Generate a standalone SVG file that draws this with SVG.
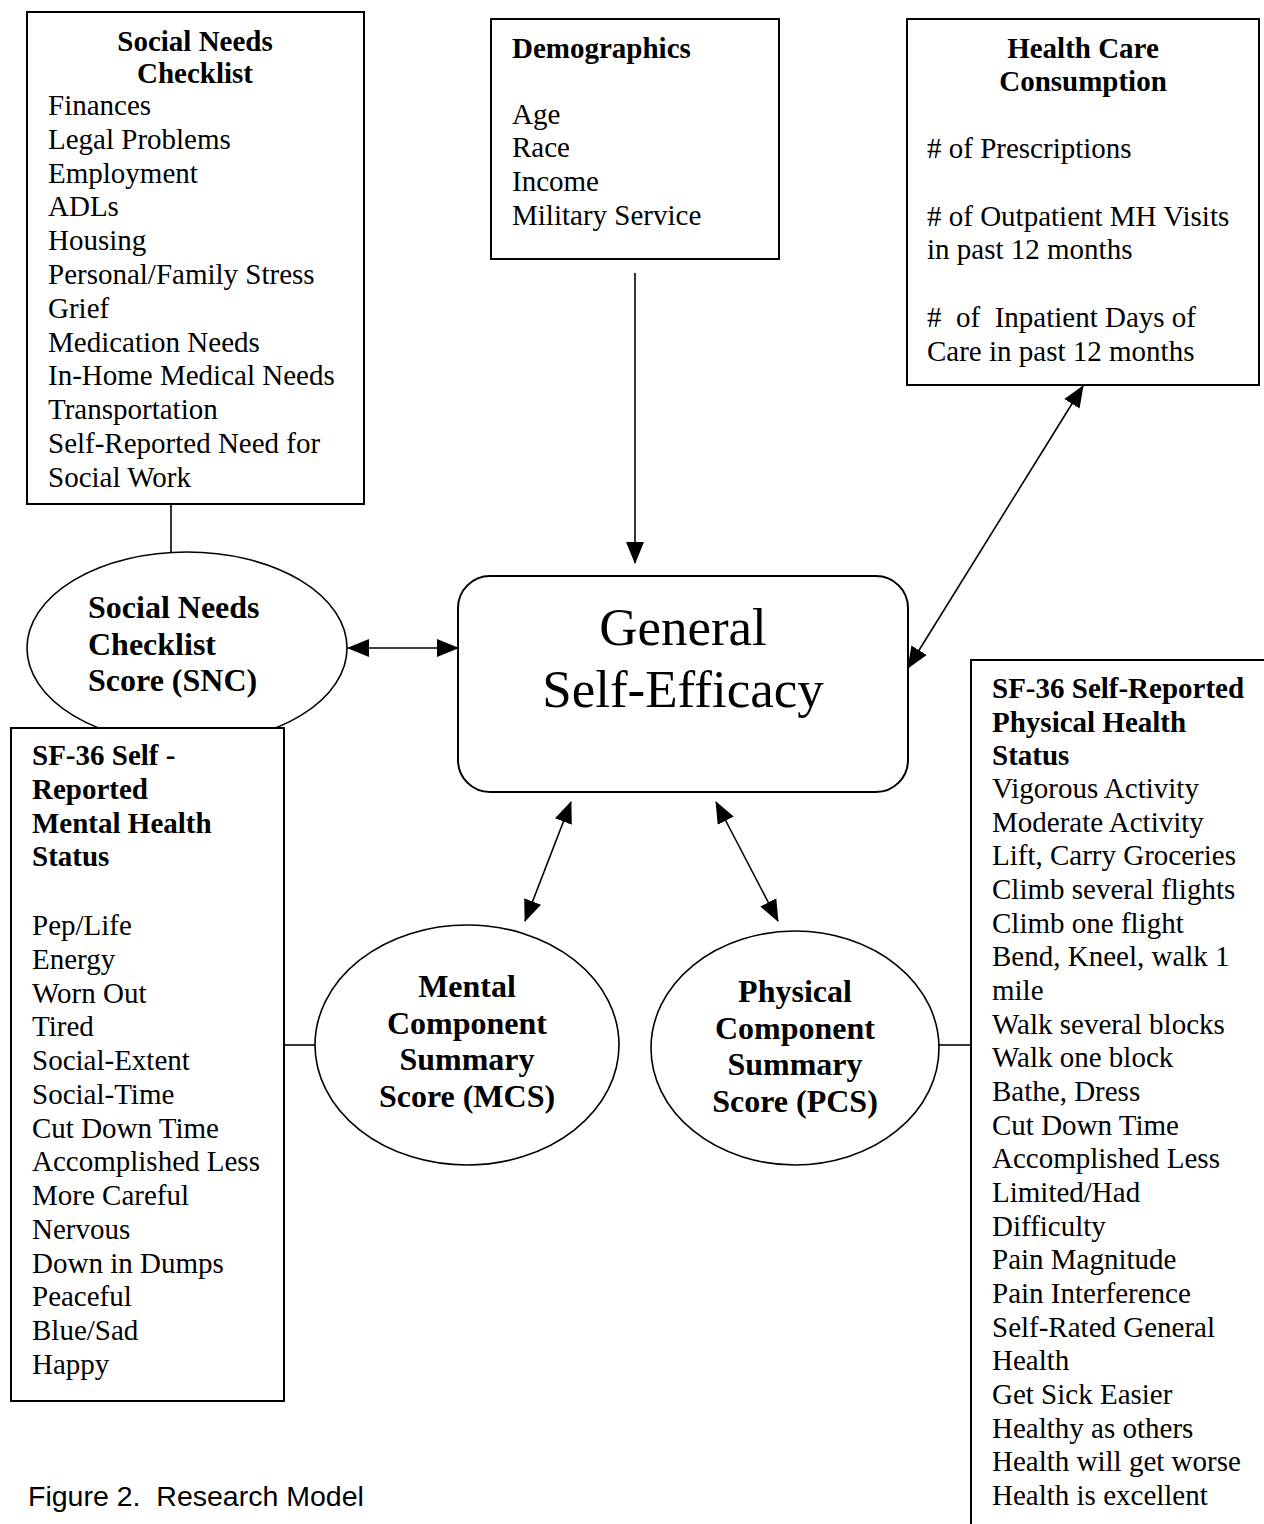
<svg xmlns="http://www.w3.org/2000/svg" width="1264" height="1524" viewBox="0 0 1264 1524">
<style>
.box{fill:#fff;stroke:#000;stroke-width:2}
.ell{fill:#fff;stroke:#000;stroke-width:1.6}
.t{font-family:"Liberation Serif","Times New Roman",serif;font-size:29px;fill:#000}
.b{font-family:"Liberation Serif","Times New Roman",serif;font-size:29px;font-weight:bold;fill:#000}
.e{font-family:"Liberation Serif","Times New Roman",serif;font-size:32px;font-weight:bold;fill:#000}
.big{font-family:"Liberation Serif","Times New Roman",serif;font-size:53px;fill:#000}
.cap{font-family:"Liberation Sans",Arial,sans-serif;font-size:28.5px;fill:#000}
.ln{stroke:#000;stroke-width:1.6;fill:none}
</style>
<defs>
<marker id="ah" markerUnits="userSpaceOnUse" markerWidth="22" markerHeight="20" refX="21" refY="9" orient="auto-start-reverse" viewBox="0 0 22 18">
<path d="M0,0 L22,9 L0,18 z" fill="#000"/>
</marker>
</defs>

<g id="snc-score">
<ellipse class="ell" cx="187" cy="648" rx="160" ry="96"/>
<text class="e" x="88" y="618">Social Needs</text>
<text class="e" x="88" y="654.5">Checklist</text>
<text class="e" x="88" y="691">Score (SNC)</text>
</g>

<g id="social-needs-checklist">
<rect class="box" x="27" y="12" width="337" height="492"/>
<text class="b" x="195" y="51" text-anchor="middle">Social Needs</text>
<text class="b" x="195" y="83" text-anchor="middle">Checklist</text>
<text class="t" x="48" y="115">Finances<tspan x="48" dy="33.8">Legal Problems</tspan><tspan x="48" dy="33.8">Employment</tspan><tspan x="48" dy="33.8">ADLs</tspan><tspan x="48" dy="33.8">Housing</tspan><tspan x="48" dy="33.8">Personal/Family Stress</tspan><tspan x="48" dy="33.8">Grief</tspan><tspan x="48" dy="33.8">Medication Needs</tspan><tspan x="48" dy="33.8">In-Home Medical Needs</tspan><tspan x="48" dy="33.8">Transportation</tspan><tspan x="48" dy="33.8">Self-Reported Need for</tspan><tspan x="48" dy="33.8">Social Work</tspan></text>
</g>

<g id="demographics">
<rect class="box" x="491" y="19" width="288" height="240"/>
<text class="b" x="512" y="58">Demographics</text>
<text class="t" x="512" y="123.5">Age<tspan x="512" dy="33.75">Race</tspan><tspan x="512" dy="33.75">Income</tspan><tspan x="512" dy="33.75">Military Service</tspan></text>
</g>

<g id="health-care-consumption">
<rect class="box" x="907" y="19" width="352" height="366"/>
<text class="b" x="1083" y="58" text-anchor="middle">Health Care</text>
<text class="b" x="1083" y="91" text-anchor="middle">Consumption</text>
<text class="t" x="927" y="158"># of Prescriptions</text>
<text class="t" x="927" y="225.5"># of Outpatient MH Visits<tspan x="927" dy="33.75">in past 12 months</tspan></text>
<text class="t" x="927" y="327" xml:space="preserve">#  of  Inpatient Days of<tspan x="927" dy="33.75">Care in past 12 months</tspan></text>
</g>

<g id="general-self-efficacy">
<rect class="box" x="458" y="576" width="450" height="216" rx="32" ry="32"/>
<text class="big" x="683" y="645" text-anchor="middle">General</text>
<text class="big" x="683" y="707" text-anchor="middle">Self-Efficacy</text>
</g>

<g id="sf36-mental">
<rect class="box" x="11" y="728" width="273" height="673"/>
<text class="b" x="32" y="765">SF-36 Self -<tspan x="32" dy="33.75">Reported</tspan><tspan x="32" dy="33.75">Mental Health</tspan><tspan x="32" dy="33.75">Status</tspan></text>
<text class="t" x="32" y="935">Pep/Life<tspan x="32" dy="33.75">Energy</tspan><tspan x="32" dy="33.75">Worn Out</tspan><tspan x="32" dy="33.75">Tired</tspan><tspan x="32" dy="33.75">Social-Extent</tspan><tspan x="32" dy="33.75">Social-Time</tspan><tspan x="32" dy="33.75">Cut Down Time</tspan><tspan x="32" dy="33.75">Accomplished Less</tspan><tspan x="32" dy="33.75">More Careful</tspan><tspan x="32" dy="33.75">Nervous</tspan><tspan x="32" dy="33.75">Down in Dumps</tspan><tspan x="32" dy="33.75">Peaceful</tspan><tspan x="32" dy="33.75">Blue/Sad</tspan><tspan x="32" dy="33.75">Happy</tspan></text>
</g>

<g id="mcs">
<ellipse class="ell" cx="467" cy="1045" rx="152" ry="120"/>
<text class="e" x="467" y="997" text-anchor="middle">Mental</text>
<text class="e" x="467" y="1034" text-anchor="middle">Component</text>
<text class="e" x="467" y="1070" text-anchor="middle">Summary</text>
<text class="e" x="467" y="1107" text-anchor="middle">Score (MCS)</text>
</g>

<g id="pcs">
<ellipse class="ell" cx="795" cy="1048" rx="144" ry="117"/>
<text class="e" x="795" y="1002" text-anchor="middle">Physical</text>
<text class="e" x="795" y="1039" text-anchor="middle">Component</text>
<text class="e" x="795" y="1075" text-anchor="middle">Summary</text>
<text class="e" x="795" y="1112" text-anchor="middle">Score (PCS)</text>
</g>

<g id="sf36-physical">
<rect class="box" x="971" y="660" width="320" height="900"/>
<text class="b" x="992" y="698">SF-36 Self-Reported<tspan x="992" dy="33.5">Physical Health</tspan><tspan x="992" dy="33.5">Status</tspan></text>
<text class="t" x="992" y="798">Vigorous Activity<tspan x="992" dy="33.67">Moderate Activity</tspan><tspan x="992" dy="33.67">Lift, Carry Groceries</tspan><tspan x="992" dy="33.67">Climb several flights</tspan><tspan x="992" dy="33.67">Climb one flight</tspan><tspan x="992" dy="33.67">Bend, Kneel, walk 1</tspan><tspan x="992" dy="33.67">mile</tspan><tspan x="992" dy="33.67">Walk several blocks</tspan><tspan x="992" dy="33.67">Walk one block</tspan><tspan x="992" dy="33.67">Bathe, Dress</tspan><tspan x="992" dy="33.67">Cut Down Time</tspan><tspan x="992" dy="33.67">Accomplished Less</tspan><tspan x="992" dy="33.67">Limited/Had</tspan><tspan x="992" dy="33.67">Difficulty</tspan><tspan x="992" dy="33.67">Pain Magnitude</tspan><tspan x="992" dy="33.67">Pain Interference</tspan><tspan x="992" dy="33.67">Self-Rated General</tspan><tspan x="992" dy="33.67">Health</tspan><tspan x="992" dy="33.67">Get Sick Easier</tspan><tspan x="992" dy="33.67">Healthy as others</tspan><tspan x="992" dy="33.67">Health will get worse</tspan><tspan x="992" dy="33.67">Health is excellent</tspan></text>
</g>

<g id="connectors">
<line class="ln" x1="171" y1="504" x2="171" y2="552"/>
<line class="ln" x1="635" y1="273" x2="635" y2="563" marker-end="url(#ah)"/>
<line class="ln" x1="348" y1="648" x2="458" y2="648" marker-start="url(#ah)" marker-end="url(#ah)"/>
<line class="ln" x1="1083" y1="386" x2="908" y2="668" marker-start="url(#ah)" marker-end="url(#ah)"/>
<line class="ln" x1="571" y1="802" x2="525" y2="921" marker-start="url(#ah)" marker-end="url(#ah)"/>
<line class="ln" x1="716" y1="802" x2="778" y2="921" marker-start="url(#ah)" marker-end="url(#ah)"/>
<line class="ln" x1="284" y1="1045" x2="315" y2="1045"/>
<line class="ln" x1="939" y1="1045" x2="971" y2="1045"/>
</g>

<text class="cap" x="28" y="1506" xml:space="preserve">Figure 2.  Research Model</text>
</svg>
